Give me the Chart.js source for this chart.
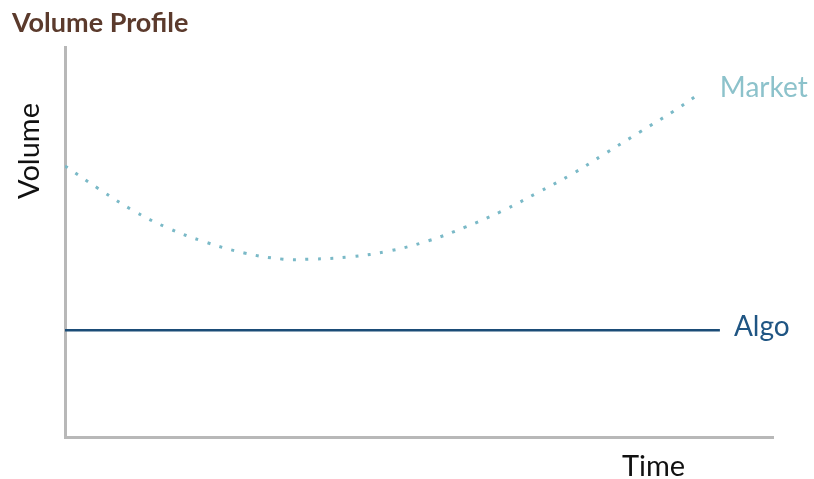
<!DOCTYPE html>
<html lang="en">
<head>
<meta charset="UTF-8">
<title>Volume Profile</title>
<script src="https://cdn.jsdelivr.net/npm/chart.js"></script>
<style>
  body {
    margin: 0;
    background: #fff;
  }
  #wrap {
    width: 814px;
    height: 479px;
  }
</style>
</head>
<body>
  <div id="wrap">
    <canvas id="profileChart" width="814" height="479"></canvas>
  </div>

  <script>
    // time runs 0..100 across the axis, volume 0..100 up the axis
    const marketTime = [0, 4.8, 9.5, 14.5, 19.8, 25.3, 30.8, 34.6, 40.3, 45.8, 51.3, 56.5, 61.7, 66.7, 71.6, 76.4, 81.2, 86.0, 89.1];
    const marketVolume = [69.5, 63.6, 58.2, 53.6, 50.0, 47.2, 45.6, 45.6, 46.2, 47.7, 50.3, 53.8, 57.9, 62.6, 67.4, 72.8, 78.2, 83.6, 87.4];
    const algoTime = [0, 92.5];
    const algoVolume = [27.4, 27.4];
    const seriesNames = ['Market', 'Algo'];

    const FONT = 'Lato, "Noto Sans", sans-serif';
    const marketColor = '#7ab9c7';
    const algoColor = '#1b4c77';
    const axisColor = '#b8b8b8';

    function toPoints(xs, ys) {
      return xs.map((x, i) => ({ x: x, y: ys[i] }));
    }

    // title, axis names and end-of-line series labels
    const annotations = {
      id: 'annotations',
      afterDraw(chart) {
        const c = chart.ctx;
        c.save();

        c.fillStyle = '#5b3a2c';
        c.font = 'bold 27px ' + FONT;
        c.textBaseline = 'alphabetic';
        c.textAlign = 'left';
        c.fillText('Volume Profile', 12, 32);

        c.fillStyle = '#111';
        c.font = '29px ' + FONT;
        c.fillText('Time', 622, 476);

        c.save();
        c.translate(39, 151);
        c.rotate(-Math.PI / 2);
        c.textAlign = 'center';
        c.fillText('Volume', 0, 0);
        c.restore();

        // series names sit just past the last point of each line
        chart.data.datasets.forEach((ds, i) => {
          const meta = chart.getDatasetMeta(i);
          const last = meta.data[meta.data.length - 1];
          c.fillStyle = ds.labelColor;
          c.font = '28px ' + FONT;
          c.textAlign = 'left';
          c.textBaseline = 'middle';
          c.fillText(ds.label, last.x + ds.labelGap, last.y + ds.labelShift);
        });

        c.restore();
      }
    };

    const ctx = document.getElementById('profileChart').getContext('2d');
    const chart = new Chart(ctx, {
      type: 'line',
      data: {
        datasets: [{
          label: seriesNames[0],
          data: toPoints(marketTime, marketVolume),
          borderColor: marketColor,
          borderWidth: 3,
          borderDash: [3, 9.5],
          pointRadius: 0,
          tension: 0.4,
          fill: false,
          labelColor: '#8cc2cb',
          labelGap: 24,
          labelShift: -8
        }, {
          label: seriesNames[1],
          data: toPoints(algoTime, algoVolume),
          borderColor: algoColor,
          borderWidth: 2.5,
          pointRadius: 0,
          fill: false,
          labelColor: '#1f5583',
          labelGap: 14,
          labelShift: -3
        }]
      },
      options: {
        responsive: false,
        animation: false,
        layout: {
          padding: { left: 65, top: 47, right: 41, bottom: 42 }
        },
        plugins: {
          legend: { display: false },
          title: { display: false },
          tooltip: { enabled: false }
        },
        scales: {
          x: {
            type: 'linear',
            min: 0,
            max: 100,
            grid: { display: false, drawTicks: false },
            ticks: { display: false },
            border: { display: true, color: axisColor, width: 3 }
          },
          y: {
            type: 'linear',
            min: 0,
            max: 100,
            grid: { display: false, drawTicks: false },
            ticks: { display: false },
            border: { display: true, color: axisColor, width: 3 }
          }
        }
      },
      plugins: [annotations]
    });
  </script>
</body>
</html>
